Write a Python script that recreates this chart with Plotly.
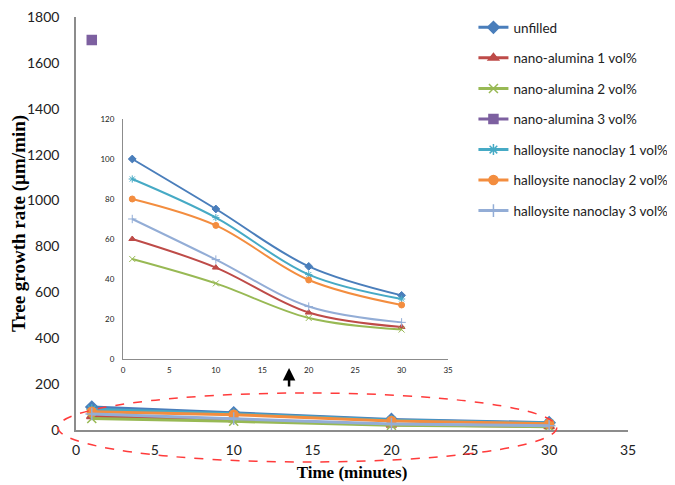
import plotly.graph_objects as go

time_min = [1, 10, 20, 30]
series_names = ["unfilled", "nano-alumina 1 vol%", "nano-alumina 2 vol%", "nano-alumina 3 vol%",
                "halloysite nanoclay 1 vol%", "halloysite nanoclay 2 vol%", "halloysite nanoclay 3 vol%"]
unfilled = [100, 75, 46.3, 31.8]
alumina1 = [60, 45.7, 23.2, 16]
alumina2 = [50, 37.8, 20.5, 14.7]
alumina3_x = [1]
alumina3 = [1700]
halloysite1 = [90, 70.7, 42.2, 30]
halloysite2 = [80, 66.8, 39.5, 27]
halloysite3 = [70, 49.7, 26.2, 18.3]

colors = ["#4A7EBB", "#BE4B48", "#98B954", "#7D60A0", "#46AAC5", "#F38D3F", "#93ADD6"]
symbols = ["diamond", "triangle-up", "x-thin", "square", "asterisk", "circle", "cross-thin"]

data = [
    (time_min, unfilled),
    (time_min, alumina1),
    (time_min, alumina2),
    (alumina3_x, alumina3),
    (time_min, halloysite1),
    (time_min, halloysite2),
    (time_min, halloysite3),
]

fig = go.Figure()
# main chart
for i, (xs, ys) in enumerate(data):
    fig.add_trace(go.Scatter(
        x=xs, y=ys, name=series_names[i], mode="lines+markers",
        line=dict(color=colors[i], width=3),
        marker=dict(symbol=symbols[i], size=9, color=colors[i],
                    line=dict(color=colors[i], width=1.5)),
        legendgroup=str(i), xaxis="x", yaxis="y"))
# inset chart
for i, (xs, ys) in enumerate(data):
    if i == 3:
        continue
    fig.add_trace(go.Scatter(
        x=xs, y=ys, name=series_names[i], mode="lines+markers", showlegend=False,
        line=dict(color=colors[i], width=2, shape="spline"),
        marker=dict(symbol=symbols[i], size=6, color=colors[i],
                    line=dict(color=colors[i], width=1)),
        legendgroup=str(i), xaxis="x2", yaxis="y2"))

axis_col = "#8C8C8C"
fig.update_layout(
    width=667, height=477,
    margin=dict(l=68, r=47, t=9, b=55, autoexpand=False),
    paper_bgcolor="white", plot_bgcolor="white",
    font=dict(family="Lato", color="#222"),
    xaxis=dict(range=[0, 35], dtick=5, showgrid=False, zeroline=False,
               showline=True, linecolor=axis_col, linewidth=1.5,
               tickfont=dict(size=14, family="Lato", color="#222"),
               ticklabelstandoff=6, ticklabeloverflow="allow",
               title=dict(text="<b>Time (minutes)</b>",
                          font=dict(family="Liberation Serif", size=17, color="#000"),
                          standoff=10)),
    yaxis=dict(range=[0, 1800], dtick=200, showgrid=False, zeroline=False,
               showline=True, linecolor=axis_col, linewidth=1.5,
               tickfont=dict(size=14, family="Lato", color="#222"),
               ticklabelstandoff=12, ticklabeloverflow="allow",
               title=dict(text="<b>Tree growth rate (µm/min)</b>",
                          font=dict(family="Liberation Serif", size=19, color="#000"),
                          standoff=4)),
    xaxis2=dict(domain=[0.0851, 0.674], anchor="y2", range=[0, 35], dtick=5,
                showgrid=False, zeroline=False, showline=True, linecolor=axis_col,
                linewidth=1, tickfont=dict(size=8, color="#222"), ticklabelstandoff=3),
    yaxis2=dict(domain=[0.172, 0.753], anchor="x2", range=[0, 120], dtick=20,
                showgrid=False, zeroline=False, showline=True, linecolor=axis_col,
                linewidth=1, tickfont=dict(size=8, color="#222"), ticklabelstandoff=6),
    legend=dict(xref="paper", yref="paper", x=0.72, y=1.012,
                xanchor="left", yanchor="top", tracegroupgap=10,
                font=dict(size=13.5, family="Lato", color="#222"),
                bgcolor="rgba(0,0,0,0)", itemwidth=30),
    showlegend=True,
)

fig.add_shape(type="circle", xref="paper", yref="paper",
              x0=-0.0326, x1=0.871, y0=-0.0775, y1=0.0896,
              line=dict(color="#FF3B3B", width=1.5, dash="dash"))
fig.add_annotation(xref="paper", yref="paper", x=0.386, y=0.150,
                   ax=0, ay=20, axref="pixel", ayref="pixel", text="",
                   showarrow=True, arrowhead=2, arrowsize=1, arrowwidth=2.5,
                   arrowcolor="#000")

fig.write_html("out.html")
